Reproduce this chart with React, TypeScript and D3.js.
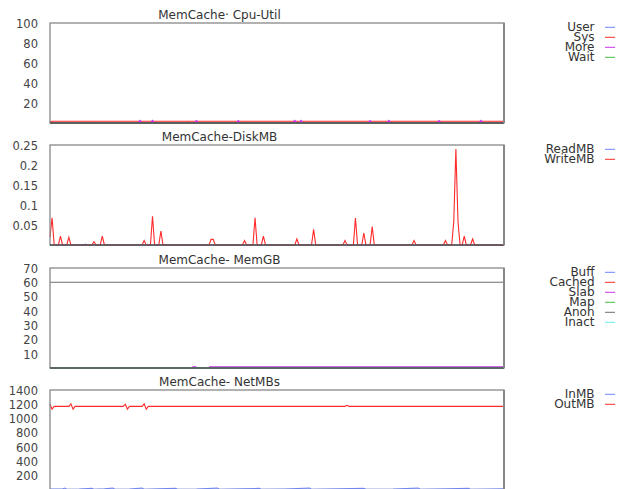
import * as d3 from "d3";

type Pt = [number, number | null];

// sample index runs 0..LAST_SAMPLE across every panel
const LAST_SAMPLE = 217;

// Cpu-Util (%)
const cpuUser: Pt[] = [[0, 0.3], [17, 0.3], [18, 1.0], [19, 0.3], [65, 0.3], [66, 1.0], [67, 0.3], [209, 0.3], [210, 1.0], [211, 0.3], [217, 0.3]];
const cpuSys: Pt[] = [[0, 1.0], [1, 1.8], [217, 1.8]];
const cpuMore: Pt[] = [[0, 0.1], [42, 0.1], [43, 2.6], [44, 0.1], [48, 0.1], [49, 2.6], [50, 0.1], [69, 0.1], [70, 2.5], [71, 0.1], [89, 0.1], [90, 2.5], [91, 0.1], [116, 0.1], [117, 2.6], [118, 0.1], [119, 0.1], [120, 2.6], [121, 0.1], [152, 0.1], [153, 2.5], [154, 0.1], [161, 0.1], [162, 2.6], [163, 0.1], [185, 0.1], [186, 2.5], [187, 0.1], [205, 0.1], [206, 2.6], [207, 0.1], [217, 0.1]];
const cpuWait: Pt[] = [[0, 0], [217, 0]];

// DiskMB
const diskRead: Pt[] = [[0, 0], [16, 0], [17, 0.002], [18, 0], [217, 0]];
const diskWrite: Pt[] = [
  [0, 0.02], [1, 0.068], [2, 0],
  [4, 0], [5, 0.022], [6, 0],
  [8, 0], [9, 0.019], [10, 0],
  [20, 0], [21, 0.008], [22, 0],
  [24, 0], [25, 0.022], [26, 0],
  [44, 0], [45, 0.011], [46, 0],
  [48, 0], [49, 0.072], [50, 0],
  [52, 0], [53, 0.035], [54, 0],
  [76, 0], [77, 0.014], [78, 0.014], [79, 0],
  [92, 0], [93, 0.011], [94, 0],
  [97, 0], [98, 0.068], [99, 0],
  [101, 0], [102, 0.022], [103, 0],
  [117, 0], [118, 0.015], [119, 0],
  [125, 0], [126, 0.039], [127, 0],
  [140, 0], [141, 0.011], [142, 0],
  [145, 0], [146, 0.0675], [147, 0],
  [149, 0], [150, 0.03], [151, 0],
  [153, 0], [154, 0.046], [155, 0],
  [173, 0], [174, 0.011], [175, 0],
  [188, 0], [189, 0.011], [190, 0],
  [192, 0], [193, 0.06], [194, 0.24], [195, 0.06], [196, 0],
  [197, 0], [198, 0.022], [199, 0],
  [201, 0], [202, 0.015], [203, 0],
  [217, 0],
];

// MemGB
const memBuff: Pt[] = [[0, 0], [217, 0]];
const memCached: Pt[] = [[0, 0], [217, 0]];
const memSlab: Pt[] = [[68, 0.7], [70, 0.7], [70, null], [76, 0.7], [217, 0.7]];
const memMap: Pt[] = [[0, 0], [217, 0]];
const memAnon: Pt[] = [[0, 60], [217, 60]];
const memInact: Pt[] = [[0, 0], [217, 0]];

// NetMBs
const netIn: Pt[] = [[0, 8], [6, 8], [7, 20], [8, 4], [14, 8], [20, 16], [21, 4], [26, 10], [30, 20], [31, 4], [38, 8], [44, 20], [45, 4], [52, 10], [60, 16], [61, 4], [70, 8], [80, 20], [81, 4], [92, 10], [100, 16], [101, 4], [112, 8], [124, 20], [125, 4], [138, 10], [150, 16], [151, 4], [164, 8], [176, 20], [177, 4], [190, 10], [200, 16], [201, 4], [210, 8], [217, 10]];
const netOut: Pt[] = [[0, 1200], [1, 1130], [2, 1170], [9, 1170], [10, 1205], [11, 1130], [12, 1170], [35, 1170], [36, 1200], [37, 1130], [38, 1170], [44, 1170], [45, 1205], [46, 1130], [47, 1170], [141, 1170], [142, 1185], [143, 1170], [217, 1170]];

const cpuTicks = [20, 40, 60, 80, 100];
const diskTicks = [0.05, 0.1, 0.15, 0.2, 0.25];
const memTicks = [10, 20, 30, 40, 50, 60, 70];
const netTicks = [200, 400, 600, 800, 1000, 1200, 1400];

const BLUE = "#6f86ff";
const RED = "#ff2a2a";
const PURPLE = "#cc33ee";
const GREEN = "#44c044";
const GREY = "#6e6e6e";
const CYAN = "#66eeee";

interface Series { name: string; color: string; data: Pt[] }
interface Panel {
  title: string;
  top: number;
  bottom: number;
  max: number;
  ticks: number[];
  fmt: (v: number) => string;
  series: Series[];
}

const panels: Panel[] = [
  {
    title: "MemCache· Cpu-Util", top: 23, bottom: 123, max: 100, ticks: cpuTicks, fmt: String,
    series: [
      { name: "User", color: BLUE, data: cpuUser },
      { name: "Sys", color: RED, data: cpuSys },
      { name: "More", color: PURPLE, data: cpuMore },
      { name: "Wait", color: GREEN, data: cpuWait },
    ],
  },
  {
    title: "MemCache-DiskMB", top: 145, bottom: 245, max: 0.25, ticks: diskTicks, fmt: (v) => String(v),
    series: [
      { name: "ReadMB", color: BLUE, data: diskRead },
      { name: "WriteMB", color: RED, data: diskWrite },
    ],
  },
  {
    title: "MemCache- MemGB", top: 268, bottom: 368, max: 70, ticks: memTicks, fmt: String,
    series: [
      { name: "Buff", color: BLUE, data: memBuff },
      { name: "Cached", color: RED, data: memCached },
      { name: "Slab", color: PURPLE, data: memSlab },
      { name: "Map", color: GREEN, data: memMap },
      { name: "Anon", color: GREY, data: memAnon },
      { name: "Inact", color: CYAN, data: memInact },
    ],
  },
  {
    title: "MemCache- NetMBs", top: 390, bottom: 489.5, max: 1400, ticks: netTicks, fmt: String,
    series: [
      { name: "InMB", color: BLUE, data: netIn },
      { name: "OutMB", color: RED, data: netOut },
    ],
  },
];

const FONT = "DejaVu Sans, sans-serif";
const x = d3.scaleLinear().domain([0, LAST_SAMPLE]).range([50, 504]);

function PanelView({ p }: { p: Panel }) {
  const y = d3.scaleLinear().domain([0, p.max]).range([p.bottom, p.top]);
  const line = d3
    .line<Pt>()
    .defined((d) => d[1] != null)
    .x((d) => x(d[0]))
    .y((d) => y(d[1] as number));
  return (
    <g>
      <text x={219.5} y={p.top - 4.5} textAnchor="middle" fontSize={12} fill="#333">
        {p.title}
      </text>
      {p.ticks.map((t) => (
        <text key={t} x={38} y={y(t)} dy="0.42em" textAnchor="end" fontSize={11.5} fill="#444">
          {p.fmt(t)}
        </text>
      ))}
      {p.series.map((s) => (
        <path
          key={s.name}
          d={line(s.data) ?? ""}
          fill="none"
          stroke={s.color}
          strokeWidth={s.name === "Slab" ? 1.6 : 1.1}
        />
      ))}
      <rect x={50} y={p.top} width={454} height={p.bottom - p.top} fill="none" stroke="#888" strokeWidth={1.3} />
      <line x1={50} x2={504} y1={p.bottom} y2={p.bottom} stroke="#333" strokeWidth={1} />
      <line x1={504} x2={504} y1={p.top} y2={p.bottom} stroke="#888" strokeWidth={2} />
      {p.series.map((s, i) => {
        const ly = p.top + 4.3 + i * 10;
        return (
          <g key={s.name}>
            <text x={594.5} y={ly + 3.3} textAnchor="end" fontSize={12} fill="#333">
              {s.name}
            </text>
            <line x1={605} x2={615} y1={ly} y2={ly} stroke={s.color} strokeWidth={1} />
          </g>
        );
      })}
    </g>
  );
}

export default function App() {
  return (
    <svg
      width={618}
      height={489}
      style={{ position: "absolute", left: 0, top: 0, background: "#fff" }}
      fontFamily={FONT}
    >
      {panels.map((p) => (
        <PanelView key={p.title} p={p} />
      ))}
    </svg>
  );
}
